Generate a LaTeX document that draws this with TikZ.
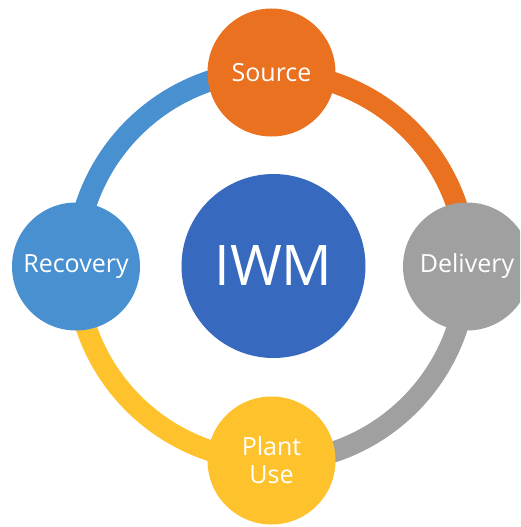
\documentclass[tikz,border=0pt]{standalone}
\usepackage{fontspec}
\setmainfont{Open Sans}
\definecolor{corange}{HTML}{E9711F}
\definecolor{cgray}{HTML}{A0A0A0}
\definecolor{cyellow}{HTML}{FDC22C}
\definecolor{cblue}{HTML}{4890CF}
\definecolor{cdark}{HTML}{3769BF}
\begin{document}
\begin{tikzpicture}[x=1pt,y=1pt,
  stage/.style={circle, minimum size=128pt, inner sep=0pt, text=white, font=\fontsize{25}{28}\selectfont, align=center},
  ringarc/.style={line width=21pt}]
\useasboundingbox (0,0) rectangle (520,-527);
\clip (0,0) rectangle (520,-527);
\fill[white] (0,0) rectangle (520,-527);
\coordinate (C) at (271.5,-266.5);
\path (C) ++(90:194) coordinate (pS);
\path (C) ++(0:195.5) coordinate (pD);
\path (C) ++(-90:194) coordinate (pP);
\path (C) ++(180:195.5) coordinate (pR);
\draw[ringarc, corange] (pS) arc[start angle=90, end angle=0, radius=195.5];
\draw[ringarc, cgray] (pD) arc[start angle=0, end angle=-90, radius=195.5];
\draw[ringarc, cyellow] (pP) arc[start angle=-90, end angle=-180, radius=195.5];
\draw[ringarc, cblue] (pR) arc[start angle=180, end angle=90, radius=195.5];
\node[stage, fill=corange] (src) at (pS) {Source};
\node[stage, fill=cgray] (del) at (pD) {Delivery};
\node[stage, fill=cyellow] (pla) at (pP) {Plant\\Use};
\node[stage, fill=cblue] (rec) at (pR) {Recovery};
\node[circle, minimum size=184pt, inner sep=0pt, fill=cdark, text=white, font=\fontsize{56}{60}\selectfont] (iwm) at (273.5,-266) {IWM};
\end{tikzpicture}
\end{document}
